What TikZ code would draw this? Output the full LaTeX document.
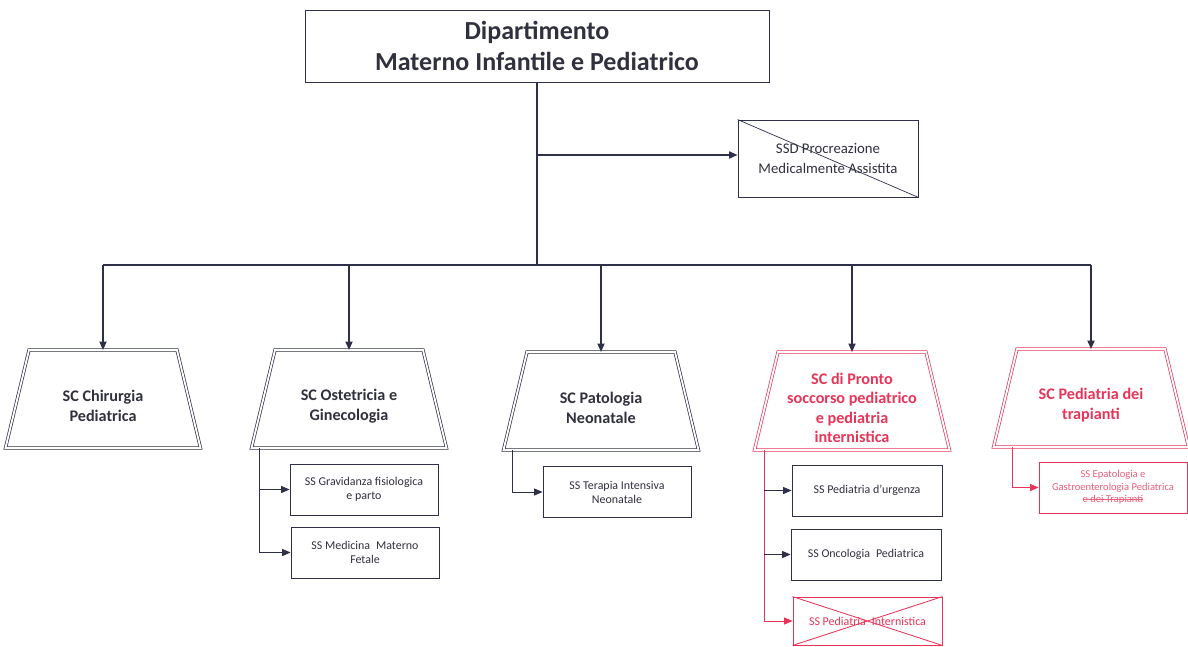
\documentclass[tikz,border=0pt]{standalone}
\usepackage{fontspec}
\setmainfont{Carlito}
\usetikzlibrary{arrows.meta,calc}
\definecolor{orgline}{RGB}{45,48,72}
\definecolor{orgtext}{RGB}{48,48,62}
\definecolor{orgred}{RGB}{232,52,88}
\newcommand\strikeout[1]{\setbox0\hbox{#1}\rlap{\rule[0.3em]{\wd0}{0.4pt}}\box0}

\begin{document}
\begin{tikzpicture}[x=0.025cm,y=-0.025cm,>={Triangle[length=6pt,width=5pt]},
    box/.style={draw=orgline,line width=0.6pt,text=orgtext,align=center,inner sep=0pt},
    unit/.style={align=center,text=orgtext,inner sep=0pt,
      font=\fontsize{11.5}{13.8}\selectfont\bfseries},
    unitline/.style={draw=orgline,double,double distance=1.3pt,line width=0.5pt},
    sub/.style={box,minimum width=3.7cm,minimum height=1.275cm,font=\fontsize{8.5}{10}\selectfont},
    link/.style={draw=orgline,line width=1.2pt,->},
    leg/.style={draw=orgline,line width=0.6pt,->}]
    \useasboundingbox (0,0) rectangle (1188,646);

    % Department
    \node[box,minimum width=11.6cm,minimum height=1.8cm,
      font=\fontsize{18.5}{22}\selectfont\bfseries] (dip) at (537,46)
      {Dipartimento\\Materno Infantile e Pediatrico};

    % SSD (crossed out)
    \node[box,minimum width=4.5cm,minimum height=1.925cm,
      font=\fontsize{10.5}{14}\selectfont] (ssd) at (828,158.5)
      {SSD Procreazione\\Medicalmente Assistita};
    \draw[orgline,line width=0.5pt] (ssd.north west) -- (ssd.south east);

    % Complex units
    \node[unit] (chir) at (103,406) {SC Chirurgia\\Pediatrica};
    \node[unit] (oste) at (349,406) {SC Ostetricia e\\Ginecologia};
    \node[unit] (pato) at (601,408) {SC Patologia\\Neonatale};
    \node[unit,text=orgred] (pron) at (852,408)
      {SC di Pronto\\soccorso pediatrico\\e pediatria\\internistica};
    \node[unit,text=orgred] (trap) at (1091,405)
      {SC Pediatria dei\\trapianti};
    \foreach \u/\c in {chir/orgline,oste/orgline,pato/orgline,pron/orgred,trap/orgred}{
      \draw[unitline,draw=\c] ($(\u.center)+(-74,-56)$) -- ($(\u.center)+(74,-56)$)
        -- ($(\u.center)+(97.5,42)$) -- ($(\u.center)+(-97.5,42)$) -- cycle;
      \coordinate (\u-top) at ($(\u.center)+(0,-56)$);
    }

    % Tree
    \coordinate (bus) at (537,265);
    \draw[orgline,line width=1.2pt] (dip.south) -- (bus);
    \draw[link] (dip.south |- 0,155) -- (ssd.west |- 0,155);
    \draw[orgline,line width=1.2pt] (chir-top |- bus) -- (trap-top |- bus);
    \foreach \u in {chir,oste,pato,pron,trap}
      \draw[link] (\u-top |- bus) -- (\u-top);

    % Simple units
    \node[sub] (grav) at (364,489.5) {SS Gravidanza fisiologica\\e parto};
    \node[sub] (mate) at (365,552.5) {SS Medicina\enspace Materno\\Fetale};
    \node[sub] (tin) at (617,492) {SS Terapia Intensiva\\Neonatale};
    \node[sub,minimum width=3.75cm] (urg) at (867,490.5) {SS Pediatria d'urgenza};
    \node[sub,minimum width=3.75cm] (onc) at (866,554.5) {SS Oncologia\enspace Pediatrica};
    \node[sub,minimum width=3.725cm,minimum height=1.2cm,draw=orgred,text=orgred] (int)
      at (867.5,621) {SS Pediatria\enspace Internistica};
    \draw[orgred,line width=0.6pt] (int.north west) -- (int.south east)
      (int.south west) -- (int.north east);
    \node[sub,draw=orgred,text=orgred!80,font=\fontsize{7.5}{9}\selectfont] (epa)
      at (1113,487.5) {SS Epatologia e\\Gastroenterologia Pediatrica\\\strikeout{e dei Trapianti}};

    % Legs
    \coordinate (osteleg) at (259,448);
    \coordinate (patoleg) at (512,450);
    \coordinate (pronleg) at (764,450);
    \coordinate (trapleg) at (1012,447);
    \draw[leg] (osteleg) |- (grav.west);
    \draw[leg] (osteleg) |- (mate.west);
    \draw[leg] (patoleg) |- (tin.west);
    \draw[leg,draw=orgred] (pronleg) |- (int.west);
    \draw[leg] (pronleg |- urg.west) -- (urg.west);
    \draw[leg] (pronleg |- onc.west) -- (onc.west);
    \draw[leg,draw=orgred] (trapleg) |- (epa.west);
\end{tikzpicture}
\end{document}
